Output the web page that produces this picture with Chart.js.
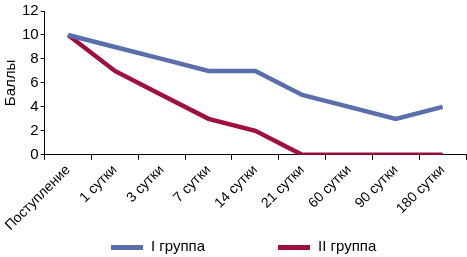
<!DOCTYPE html>
<html><head><meta charset="utf-8">
<script src="https://cdn.jsdelivr.net/npm/chart.js@4/dist/chart.umd.min.js"></script>
<style>html,body{margin:0;padding:0;background:#fff}#w{width:467px;height:257px}</style>
</head><body><div id="w"><canvas id="c"></canvas></div>
<script>
const categories = ["Поступление","1 сутки","3 сутки","7 сутки","14 сутки","21 сутки","60 сутки","90 сутки","180 сутки"];
const group1 = [10, 9, 8, 7, 7, 5, 4, 3, 4];
const group2 = [10, 7, 5, 3, 2, 0, 0, 0, 0];
const seriesNames = ["I группа","II группа"];
const yTicks = [0,2,4,6,8,10,12];
const colors = ["#5a6eae","#a0103e"];
const FONT = "'Liberation Sans',Arial,sans-serif";
Chart.defaults.font.family = FONT;
Chart.defaults.color = '#000';

// legend drawn as line samples with real text, placed under the chart
const legendPlugin = {
  id: 'lineLegend',
  afterDraw(chart) {
    const ctx = chart.ctx;
    const y = 247;
    const items = [{x: 111}, {x: 278}];
    ctx.save();
    ctx.font = '15px ' + FONT;
    ctx.textBaseline = 'middle';
    ctx.textAlign = 'left';
    chart.data.datasets.forEach((d, i) => {
      const x = items[i].x;
      ctx.fillStyle = d.borderColor;
      ctx.fillRect(x, y - 2, 32, 5);
      ctx.fillStyle = '#000';
      ctx.fillText(d.label, x + 40, y);
    });
    ctx.restore();
  }
};

new Chart(document.getElementById('c'), {
  type: 'line',
  data: {
    labels: categories,
    datasets: [
      {label: seriesNames[0], data: group1, borderColor: colors[0], backgroundColor: colors[0], borderWidth: 4.5, pointRadius: 0, tension: 0},
      {label: seriesNames[1], data: group2, borderColor: colors[1], backgroundColor: colors[1], borderWidth: 4.5, pointRadius: 0, tension: 0}
    ]
  },
  options: {
    responsive: true, maintainAspectRatio: false, animation: false,
    layout: {padding: {top: 9, right: 1, left: 0, bottom: 21}},
    plugins: {
      tooltip: {enabled: false},
      legend: {display: false}
    },
    scales: {
      x: {
        offset: true,
        grid: {display: true, offset: true, drawOnChartArea: false, drawTicks: true, tickLength: 5, color: '#000'},
        border: {color: '#000', width: 1},
        ticks: {maxRotation: 45, minRotation: 45, font: {size: 14}, padding: 2, autoSkip: false}
      },
      y: {
        min: 0, max: 12,
        afterBuildTicks: (ax) => { ax.ticks = yTicks.map(v => ({value: v})); },
        grid: {display: true, drawOnChartArea: false, drawTicks: true, tickLength: 4, color: '#000'},
        border: {color: '#000', width: 1},
        ticks: {font: {size: 15}, padding: 2},
        title: {display: true, text: 'Баллы', font: {size: 15}, padding: {top: 2, bottom: 0}}
      }
    }
  },
  plugins: [legendPlugin]
});
</script></body></html>
